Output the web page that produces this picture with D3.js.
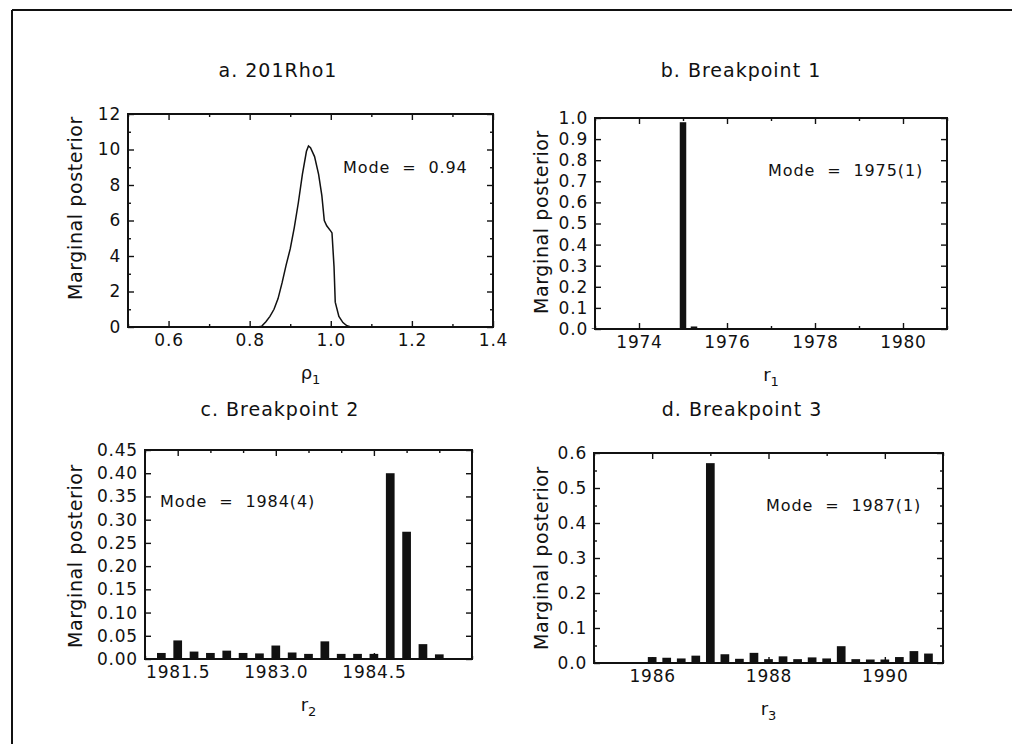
<!DOCTYPE html>
<html><head><meta charset="utf-8">
<script src="https://cdn.jsdelivr.net/npm/d3@7"></script>
<style>
body{margin:0;background:#fff}
svg{display:block}
text{font-family:"DejaVu Sans",sans-serif;fill:#111}
</style>
</head><body>
<svg id="chart" width="1020" height="748"></svg>
<script>
// ---- Data ----
const rhoGrid    = [0.50, 0.82, 0.83, 0.84, 0.85, 0.86, 0.87, 0.88, 0.89, 0.90, 0.91, 0.92, 0.93, 0.94, 0.945, 0.95, 0.96, 0.97, 0.978, 0.984, 0.99, 1.00, 1.003, 1.008, 1.011, 1.02, 1.03, 1.04, 1.05, 1.40];
const rhoDensity = [0,    0,    0.05, 0.3,  0.6,  1.0,  1.6,  2.5,  3.5,  4.4,  5.6,  7.0,  8.6,  9.9,  10.2,  10.1, 9.6,  8.6,  7.4,   6.0,   5.7,  5.4,  5.3,   3.4,   1.4,   0.6,  0.25, 0.07, 0,    0];

const bp1Quarters = [1973.0,1973.25,1973.5,1973.75,1974.0,1974.25,1974.5,1974.75,1975.0,1975.25,1975.5,1975.75,1976.0,1976.25,1976.5,1976.75,1977.0,1977.25,1977.5,1977.75,1978.0,1978.25,1978.5,1978.75,1979.0,1979.25,1979.5,1979.75,1980.0,1980.25,1980.5,1980.75];
const bp1Probs    = [0.003,0.003,0.003,0.003,0.003,0.003,0.003,0.003,0.98,0.012,0.003,0.003,0.003,0.003,0.003,0.003,0.003,0.003,0.003,0.003,0.003,0.003,0.003,0.003,0.003,0.003,0.003,0.003,0.003,0.003,0.003,0.003];

const bp2Quarters = [1981.25,1981.5,1981.75,1982.0,1982.25,1982.5,1982.75,1983.0,1983.25,1983.5,1983.75,1984.0,1984.25,1984.5,1984.75,1985.0,1985.25,1985.5];
const bp2Probs    = [0.013,0.040,0.016,0.013,0.018,0.013,0.012,0.029,0.014,0.011,0.038,0.011,0.011,0.011,0.400,0.274,0.032,0.010];

const bp3Quarters = [1986.0,1986.25,1986.5,1986.75,1987.0,1987.25,1987.5,1987.75,1988.0,1988.25,1988.5,1988.75,1989.0,1989.25,1989.5,1989.75,1990.0,1990.25,1990.5,1990.75];
const bp3Probs    = [0.017,0.015,0.013,0.021,0.571,0.025,0.012,0.029,0.011,0.019,0.011,0.016,0.013,0.048,0.011,0.010,0.010,0.017,0.034,0.027];

const titles    = ["a. 201Rho1","b. Breakpoint 1","c. Breakpoint 2","d. Breakpoint 3"];
const modeTexts = ["Mode  =  0.94","Mode  =  1975(1)","Mode  =  1984(4)","Mode  =  1987(1)"];
const yLabel = "Marginal posterior";

const aYTicks = [0,2,4,6,8,10,12];
const aXTicks = [0.6,0.8,1.0,1.2,1.4];
const bYTicks = [0,0.1,0.2,0.3,0.4,0.5,0.6,0.7,0.8,0.9,1.0];
const bXTicks = [1974,1976,1978,1980];
const cYTicks = [0,0.05,0.10,0.15,0.20,0.25,0.30,0.35,0.40,0.45];
const cXTicks = [1981.5,1983.0,1984.5];
const dYTicks = [0,0.1,0.2,0.3,0.4,0.5,0.6];
const dXTicks = [1986,1988,1990];

// ---- Layout ----
const svg = d3.select("#chart");
svg.append("line").attr("x1",12).attr("y1",10).attr("x2",1012).attr("y2",10).attr("stroke","#111").attr("stroke-width",2);
svg.append("line").attr("x1",12).attr("y1",10).attr("x2",12).attr("y2",744).attr("stroke","#111").attr("stroke-width",2);

const panels = [
  {box:[128,114,493,327], xd:[0.5,1.4], yd:[0,12], xt:aXTicks, yt:aYTicks, xf:d3.format(".1f"), yf:d3.format("d"),
   xm:[0.5,0.7,0.9,1.1,1.3], ym:[1,3,5,7,9,11], title:[278,77], ylab:[82,208], mode:[343,173], xlab:"ρ", sub:"1", type:"line"},
  {box:[595,118,947,329], xd:[1973,1981], yd:[0,1.0], xt:bXTicks, yt:bYTicks, xf:d3.format("d"), yf:d3.format(".1f"),
   xm:[1973,1975,1977,1979,1981], ym:[], title:[741,77], ylab:[548,222], mode:[768,176], xlab:"r", sub:"1", type:"bar",
   xs:bp1Quarters, ys:bp1Probs, bw:6.5},
  {box:[145,450,472,659], xd:[1981,1986], yd:[0,0.45], xt:cXTicks, yt:cYTicks, xf:d3.format(".1f"), yf:d3.format(".2f"),
   xm:[1981,1982,1982.5,1983.5,1984,1985,1985.5,1986], ym:[], title:[280,416], ylab:[82,556], mode:[160,507], xlab:"r", sub:"2", type:"bar",
   xs:bp2Quarters, ys:bp2Probs, bw:8.7},
  {box:[594,453,943,663], xd:[1985,1991], yd:[0,0.6], xt:dXTicks, yt:dYTicks, xf:d3.format("d"), yf:d3.format(".1f"),
   xm:[1985,1987,1989,1991], ym:[0.05,0.15,0.25,0.35,0.45,0.55], title:[742,416], ylab:[548,558], mode:[766,511], xlab:"r", sub:"3", type:"bar",
   xs:bp3Quarters, ys:bp3Probs, bw:8.7}
];

panels.forEach((p,i)=>{
  const [x0,y0,x1,y1] = p.box;
  const x = d3.scaleLinear().domain(p.xd).range([x0,x1]);
  const y = d3.scaleLinear().domain(p.yd).range([y1,y0]);
  const g = svg.append("g");

  if(p.type==="line"){
    const line = d3.line().x((d,k)=>x(rhoGrid[k])).y(d=>y(d));
    g.append("path").datum(rhoDensity).attr("d",line).attr("fill","none").attr("stroke","#111").attr("stroke-width",1.5);
  } else {
    g.selectAll("rect.bar").data(p.ys).join("rect")
      .attr("x",(d,k)=>x(p.xs[k])-p.bw/2).attr("width",p.bw)
      .attr("y",d=>y(d)).attr("height",d=>y(0)-y(d)).attr("fill","#111");
  }

  const mk = (axisFn, scale, ticks, size, fmt) => axisFn(scale).tickValues(ticks).tickSizeInner(-size).tickSizeOuter(0).tickPadding(7).tickFormat(fmt);
  const blank = () => "";
  const styleAxis = sel => {
    sel.attr("font-family",null).attr("font-size",null);
    sel.select(".domain").remove();
    sel.selectAll("line").attr("stroke","#111").attr("stroke-width",1.4);
    sel.selectAll("text").attr("font-size",17).attr("letter-spacing",0.8).attr("fill","#111");
  };
  g.append("g").attr("transform",`translate(${x0},0)`).call(mk(d3.axisLeft,y,p.yt,6,p.yf)).call(styleAxis);
  g.append("g").attr("transform",`translate(${x1},0)`).call(mk(d3.axisRight,y,p.yt,6,blank)).call(styleAxis);
  g.append("g").attr("transform",`translate(0,${y1})`).call(mk(d3.axisBottom,x,p.xt,6,p.xf)).call(styleAxis);
  g.append("g").attr("transform",`translate(0,${y0})`).call(mk(d3.axisTop,x,p.xt,6,blank)).call(styleAxis);
  if(p.ym.length){
    g.append("g").attr("transform",`translate(${x0},0)`).call(mk(d3.axisLeft,y,p.ym,3,blank)).call(styleAxis);
    g.append("g").attr("transform",`translate(${x1},0)`).call(mk(d3.axisRight,y,p.ym,3,blank)).call(styleAxis);
  }
  if(p.xm.length){
    g.append("g").attr("transform",`translate(0,${y1})`).call(mk(d3.axisBottom,x,p.xm,3,blank)).call(styleAxis);
    g.append("g").attr("transform",`translate(0,${y0})`).call(mk(d3.axisTop,x,p.xm,3,blank)).call(styleAxis);
  }

  g.append("rect").attr("x",x0).attr("y",y0).attr("width",x1-x0).attr("height",y1-y0)
    .attr("fill","none").attr("stroke","#111").attr("stroke-width",2);

  g.append("text").attr("x",p.title[0]).attr("y",p.title[1]).attr("text-anchor","middle")
    .attr("font-size",19).attr("letter-spacing",1).text(titles[i]);
  g.append("text").attr("transform",`translate(${p.ylab[0]},${p.ylab[1]}) rotate(-90)`).attr("text-anchor","middle")
    .attr("font-size",19).attr("letter-spacing",0.6).text(yLabel);
  g.append("text").attr("x",p.mode[0]).attr("y",p.mode[1]).attr("font-size",16).attr("letter-spacing",0.9)
    .style("white-space","pre").text(modeTexts[i]);
  const xl = g.append("text").attr("x",(x0+x1)/2).attr("y",y1+52).attr("text-anchor","middle").attr("font-size",18);
  xl.append("tspan").text(p.xlab);
  xl.append("tspan").attr("dy",5).attr("font-size",13).text(p.sub);
});
</script>
</body></html>
